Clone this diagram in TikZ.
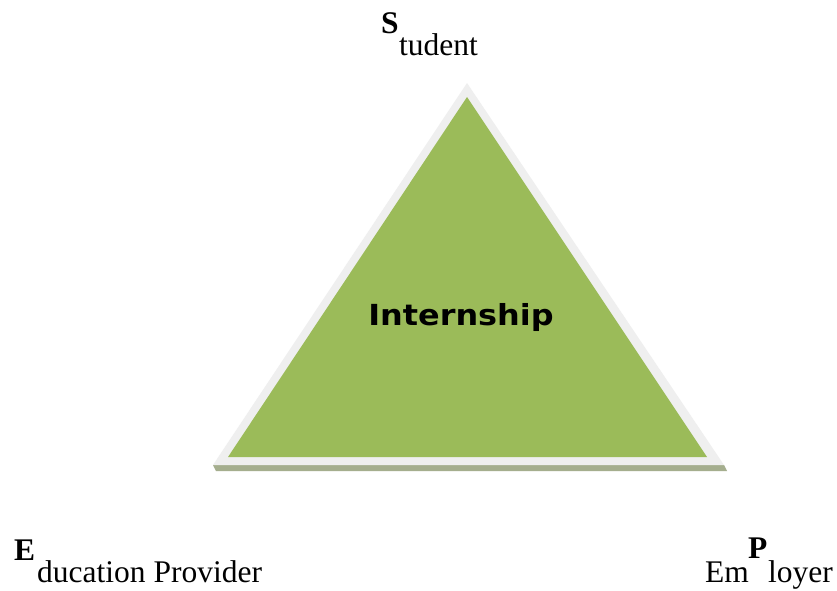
\documentclass[tikz,border=0pt]{standalone}
\usepackage{graphicx}
\usepackage{fontspec}
\setmainfont{Liberation Serif}
\newfontfamily\labelsans{DejaVu Sans}
\definecolor{leafgreen}{HTML}{9BBB59}
\definecolor{rimgray}{HTML}{EFEFEF}
\definecolor{shadowgray}{HTML}{A5AE8E}
\begin{document}
\begin{tikzpicture}[x=1pt,y=-1pt,
  lbl/.style={inner sep=0pt, anchor=base west, font=\fontsize{31.5}{31.5}\selectfont},
  initial/.style={inner sep=0pt, anchor=base west, font=\fontsize{31.5}{31.5}\selectfont\bfseries},
  core/.style={inner sep=0pt, anchor=base, font=\labelsans\bfseries\fontsize{29}{29}\selectfont}]
\useasboundingbox (0,0) rectangle (837,590);
\fill[white] (0,0) rectangle (837,590);
% shadow under the base
\fill[shadowgray] (213,465) -- (724,465) -- (727,471) -- (216,471) -- cycle;
% light rim and green body of the triangle
\fill[rimgray] (467,83) -- (724,465) -- (213,465) -- cycle;
\fill[leafgreen] (467,97) -- (707,457) -- (228,457) -- cycle;
\node[core] (centre) at (461,325) {\scalebox{1.1}[1]{Internship}};
% corner labels
\node[initial] (sS) at (381,33) {S};
\node[lbl] (sRest) at (399,55) {tudent};
\node[initial] (eE) at (14,560) {E};
\node[lbl] (eRest) at (37,582) {ducation Provider};
\node[lbl] (pEm) at (705,582) {Em};
\node[initial] (pP) at (748,558) {P};
\node[lbl] (pRest) at (768,582) {loyer};
\end{tikzpicture}
\end{document}
